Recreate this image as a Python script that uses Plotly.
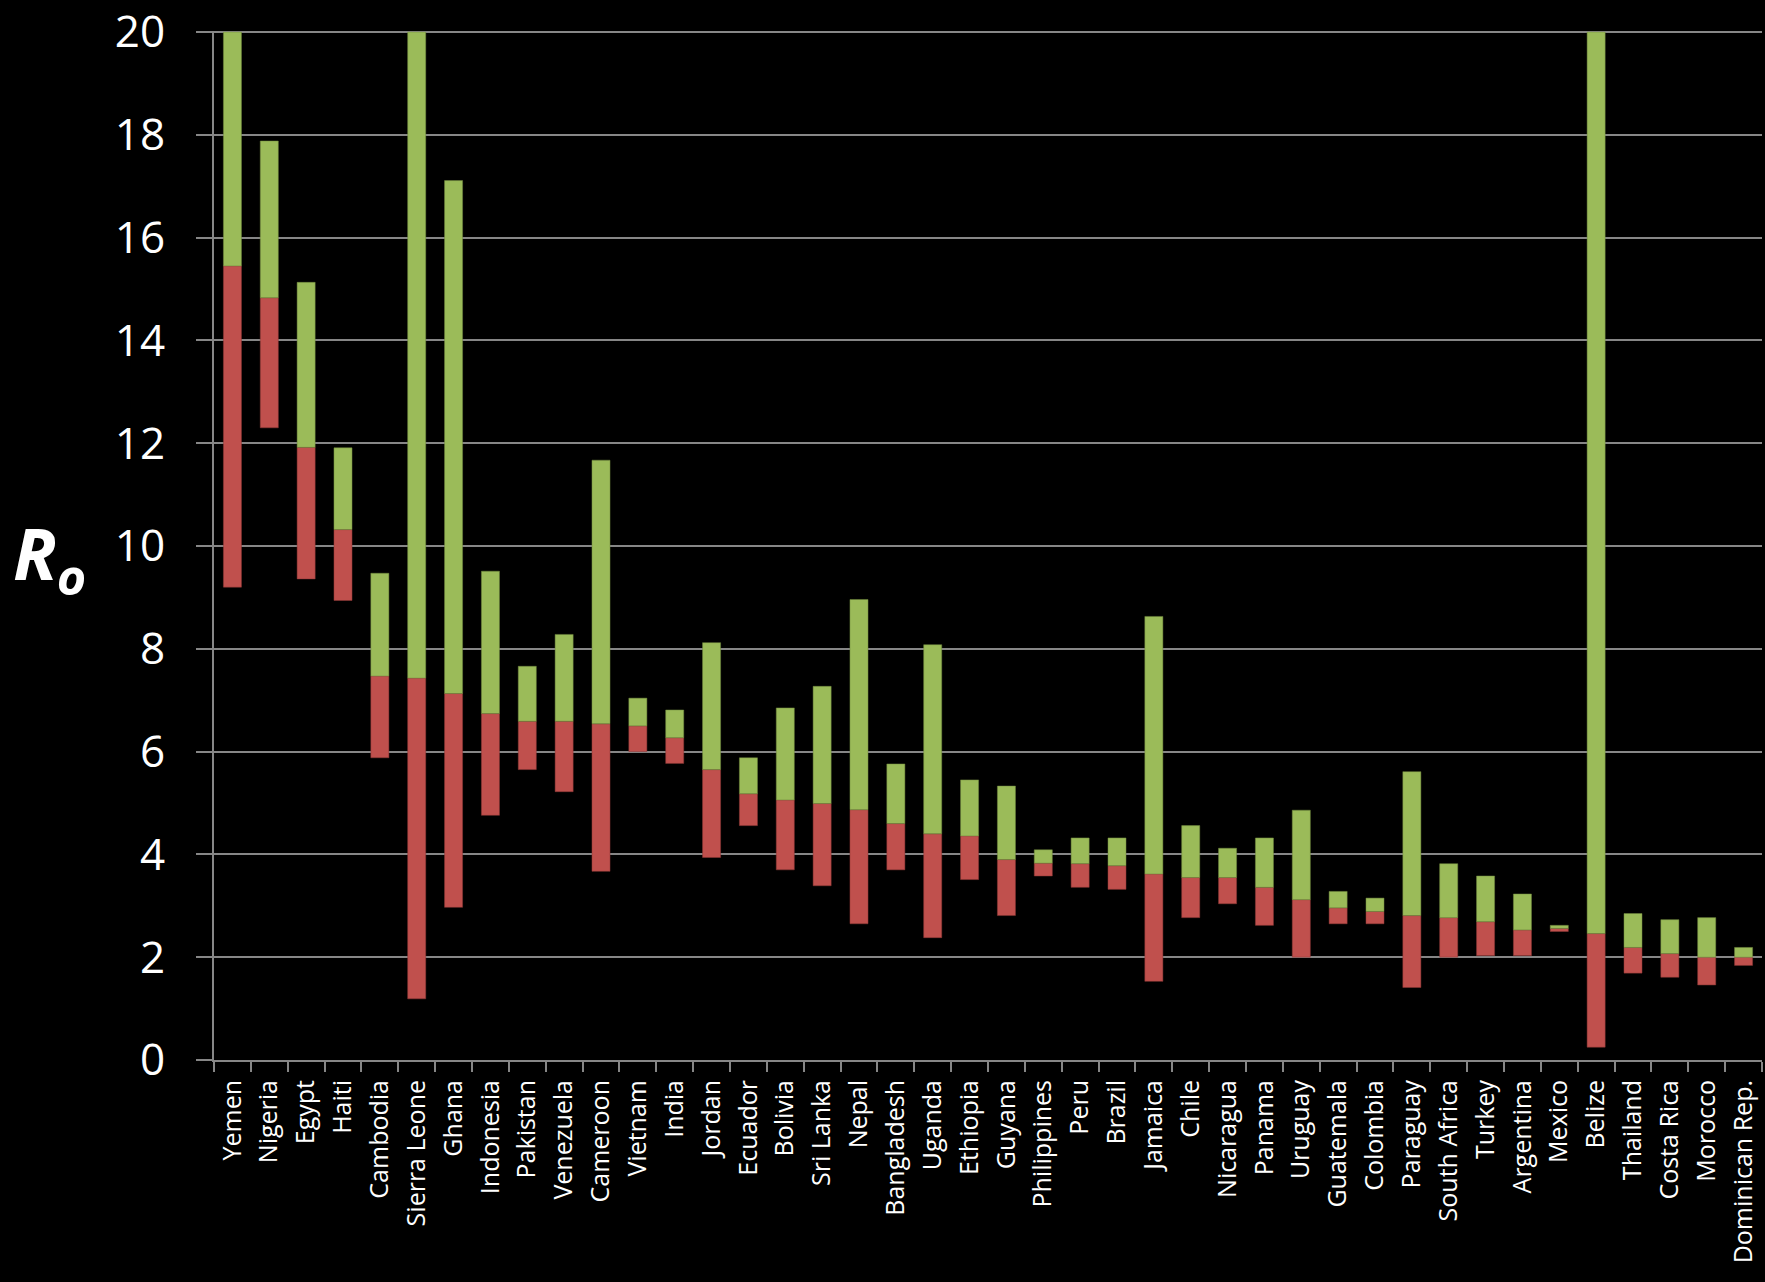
import plotly.graph_objects as go

countries = ["Yemen", "Nigeria", "Egypt", "Haiti", "Cambodia", "Sierra Leone", "Ghana",
             "Indonesia", "Pakistan", "Venezuela", "Cameroon", "Vietnam", "India", "Jordan",
             "Ecuador", "Bolivia", "Sri Lanka", "Nepal", "Bangladesh", "Uganda", "Ethiopia",
             "Guyana", "Philippines", "Peru", "Brazil", "Jamaica", "Chile", "Nicaragua",
             "Panama", "Uruguay", "Guatemala", "Colombia", "Paraguay", "South Africa",
             "Turkey", "Argentina", "Mexico", "Belize", "Thailand", "Costa Rica", "Morocco",
             "Dominican Rep."]

low = [9.20, 12.30, 9.36, 8.94, 5.88, 1.19, 2.97, 4.76, 5.65, 5.22, 3.67, 6.00, 5.77, 3.94,
       4.56, 3.70, 3.39, 2.65, 3.70, 2.38, 3.51, 2.81, 3.58, 3.36, 3.32, 1.53, 2.77, 3.04,
       2.62, 2.00, 2.65, 2.65, 1.41, 2.00, 2.03, 2.03, 2.50, 0.25, 1.69, 1.61, 1.46, 1.84]

mid = [15.45, 14.83, 11.92, 10.32, 7.47, 7.43, 7.13, 6.74, 6.59, 6.59, 6.54, 6.50, 6.27, 5.65,
       5.18, 5.06, 4.99, 4.87, 4.60, 4.40, 4.36, 3.90, 3.83, 3.82, 3.78, 3.62, 3.55, 3.55,
       3.36, 3.12, 2.96, 2.89, 2.81, 2.77, 2.69, 2.53, 2.56, 2.46, 2.19, 2.07, 2.00, 2.00]

high = [20.0, 17.88, 15.13, 11.91, 9.47, 20.0, 17.11, 9.51, 7.66, 8.28, 11.67, 7.04, 6.81, 8.12,
        5.88, 6.85, 7.27, 8.96, 5.76, 8.08, 5.45, 5.33, 4.09, 4.32, 4.32, 8.63, 4.56, 4.12,
        4.32, 4.86, 3.28, 3.15, 5.61, 3.82, 3.58, 3.23, 2.62, 20.0, 2.85, 2.73, 2.77, 2.19]

y_ticks = [0, 2, 4, 6, 8, 10, 12, 14, 16, 18, 20]

RED = "#C0504D"
GREEN = "#9BBB59"
GRID = "#868686"

fig = go.Figure()
fig.add_trace(go.Bar(
    x=countries, y=[m - l for l, m in zip(low, mid)], base=low,
    marker=dict(color=RED, line=dict(color="#8C3836", width=0.5)), name="lower",
))
fig.add_trace(go.Bar(
    x=countries, y=[h - m for m, h in zip(mid, high)], base=mid,
    marker=dict(color=GREEN, line=dict(color="#71893F", width=0.5)), name="upper",
))

fig.update_layout(
    width=1765, height=1282,
    paper_bgcolor="black", plot_bgcolor="black",
    margin=dict(l=214, r=3, t=31, b=222),
    barmode="overlay", bargap=0.51,
    showlegend=False,
    font=dict(family="Open Sans", color="white"),
    xaxis=dict(
        type="category", tickangle=-90, tickfont=dict(size=25, color="white"),
        showline=True, linecolor=GRID, linewidth=2,
        ticks="outside", tickson="boundaries", ticklen=10, tickcolor=GRID, tickwidth=2,
        showgrid=False, ticklabelstandoff=8, automargin=False,
    ),
    yaxis=dict(
        range=[0, 20.02], tickvals=y_ticks, ticktext=[str(v) for v in y_ticks],
        tickfont=dict(size=44, color="white"), ticklabeloverflow="allow",
        showgrid=True, gridcolor=GRID, gridwidth=2,
        showline=True, linecolor=GRID, linewidth=2,
        ticks="outside", ticklen=16, tickcolor=GRID, tickwidth=2,
        zeroline=False, ticklabelstandoff=22, automargin=False,
    ),
    annotations=[dict(
        text="<b><i>R</i></b><sub><b><i>o</i></b></sub>",
        xref="paper", yref="paper", x=-0.131, y=0.489,
        xanchor="left", yanchor="middle", showarrow=False,
        font=dict(size=72, color="white", family="Open Sans"),
    )],
)

fig.write_html(
    "out.html",
    config={"displayModeBar": False},
    post_script="document.body.style.margin='0';document.body.style.background='black';",
)
